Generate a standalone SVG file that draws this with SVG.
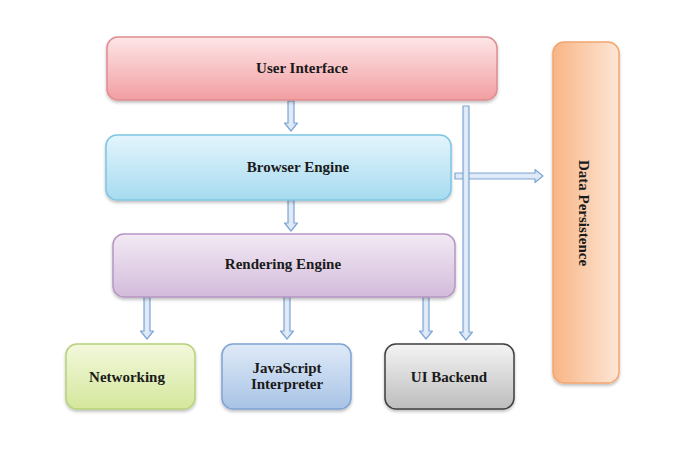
<svg xmlns="http://www.w3.org/2000/svg" width="695" height="454" viewBox="0 0 695 454">
<defs>
<linearGradient id="gUI" x1="0" y1="0" x2="0" y2="1"><stop offset="0" stop-color="#fde6e7"/><stop offset="1" stop-color="#f29ea2"/></linearGradient>
<linearGradient id="gBE" x1="0" y1="0" x2="0" y2="1"><stop offset="0" stop-color="#e3f5fc"/><stop offset="1" stop-color="#a6dbf0"/></linearGradient>
<linearGradient id="gRE" x1="0" y1="0" x2="0" y2="1"><stop offset="0" stop-color="#f2eaf4"/><stop offset="1" stop-color="#d3bbdb"/></linearGradient>
<linearGradient id="gNW" x1="0" y1="0" x2="0" y2="1"><stop offset="0" stop-color="#f3f8dc"/><stop offset="1" stop-color="#d4e79c"/></linearGradient>
<linearGradient id="gJS" x1="0" y1="0" x2="0" y2="1"><stop offset="0" stop-color="#dfeaf7"/><stop offset="1" stop-color="#a8c3e6"/></linearGradient>
<linearGradient id="gUB" x1="0" y1="0" x2="0" y2="1"><stop offset="0" stop-color="#f4f4f4"/><stop offset="1" stop-color="#bdbdbd"/></linearGradient>
<linearGradient id="gDP" x1="0" y1="0" x2="1" y2="0"><stop offset="0" stop-color="#f8b585"/><stop offset="1" stop-color="#fde6d6"/></linearGradient>
<linearGradient id="gAr" x1="0" y1="0" x2="1" y2="0"><stop offset="0" stop-color="#c6d9f1"/><stop offset="0.5" stop-color="#e4edf8"/><stop offset="1" stop-color="#c6d9f1"/></linearGradient>
<linearGradient id="gArH" x1="0" y1="0" x2="0" y2="1"><stop offset="0" stop-color="#c6d9f1"/><stop offset="0.5" stop-color="#e4edf8"/><stop offset="1" stop-color="#c6d9f1"/></linearGradient>
<filter id="sh" x="-10%" y="-10%" width="120%" height="130%"><feDropShadow dx="0" dy="2" stdDeviation="1.5" flood-color="#000" flood-opacity="0.25"/></filter>
</defs>
<style>
.box{stroke-width:1.5;filter:url(#sh)}
.lbl{font-family:"Liberation Serif","Times New Roman",serif;font-weight:bold;font-size:15px;fill:#1a1a1a;text-anchor:middle}
.ar{fill:url(#gAr);stroke:#7fa5d6;stroke-width:1.2;stroke-linejoin:round}
.arh{fill:url(#gArH);stroke:#7fa5d6;stroke-width:1.2;stroke-linejoin:round}
</style>
<rect width="695" height="454" fill="#ffffff"/>
<g id="connectors">
<polygon class="arh" points="455,173 535,173 535,169.5 543,176 535,182.5 535,179 455,179"/>
<polygon class="ar" points="463,106 469,106 469,332 472.5,332 466,340 459.5,332 463,332"/>
<polygon class="ar" points="288,101 294,101 294,123 297.5,123 291,131 284.5,123 288,123"/>
<polygon class="ar" points="288,200 294,200 294,223 297.5,223 291,231 284.5,223 288,223"/>
<polygon class="ar" points="144,297 150,297 150,331 153.5,331 147,339 140.5,331 144,331"/>
<polygon class="ar" points="284,297 290,297 290,331 293.5,331 287,339 280.5,331 284,331"/>
<polygon class="ar" points="423,297 429,297 429,331 432.5,331 426,339 419.5,331 423,331"/>
</g>
<g id="user-interface">
<rect class="box" x="107" y="37" width="390" height="63" rx="11" fill="url(#gUI)" stroke="#e08c90"/>
<text class="lbl" x="302" y="73">User Interface</text>
</g>
<g id="browser-engine">
<rect class="box" x="106" y="135" width="345" height="65" rx="11" fill="url(#gBE)" stroke="#7ec6e2"/>
<text class="lbl" x="298" y="172">Browser Engine</text>
</g>
<g id="rendering-engine">
<rect class="box" x="113" y="234" width="342" height="63" rx="11" fill="url(#gRE)" stroke="#b597c2"/>
<text class="lbl" x="283" y="269">Rendering Engine</text>
</g>
<g id="networking">
<rect class="box" x="66" y="344" width="129" height="65" rx="11" fill="url(#gNW)" stroke="#b6d27c"/>
<text class="lbl" x="127" y="382">Networking</text>
</g>
<g id="javascript-interpreter">
<rect class="box" x="222" y="344" width="129" height="65" rx="11" fill="url(#gJS)" stroke="#7fa3d4"/>
<text class="lbl" x="287" y="373">JavaScript</text>
<text class="lbl" x="287" y="389">Interpreter</text>
</g>
<g id="ui-backend">
<rect class="box" x="385" y="344" width="129" height="65" rx="11" fill="url(#gUB)" stroke="#3f3f3f"/>
<text class="lbl" x="449" y="382">UI Backend</text>
</g>
<g id="data-persistence">
<rect class="box" x="553" y="42" width="66" height="341" rx="11" fill="url(#gDP)" stroke="#f3a76f"/>
<text class="lbl" transform="translate(579,213) rotate(90)" x="0" y="0">Data Persistence</text>
</g>
</svg>
